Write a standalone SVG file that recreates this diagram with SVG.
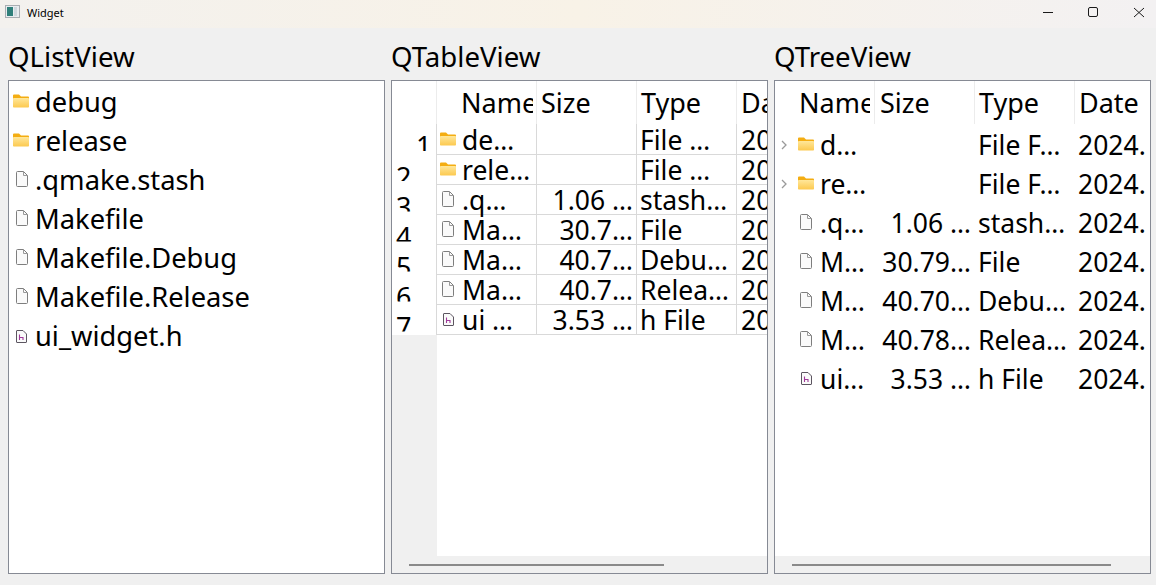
<svg xmlns="http://www.w3.org/2000/svg" width="1156" height="585" viewBox="0 0 1156 585">
<style>
text{font-family:"Noto Sans","Open Sans","Liberation Sans",sans-serif;font-size:26.5px;fill:#000}
.t{font-size:27.6px}
.l{font-size:27.3px}
.hd{font-size:27px}
.s{font-size:11px}
.r{text-anchor:end}
.box{fill:#fff;stroke:#868a94;stroke-width:1}
.g{stroke:#d9d9d9;stroke-width:1;fill:none}
.h{stroke:#ececec;stroke-width:1;fill:none}
.bar{fill:#f0f0f0}
.thumb{fill:#8a8a8a}
.win{stroke:#1a1a1a;stroke-width:1;fill:none}
.chev{stroke:#9a9a9a;stroke-width:1.3;fill:none}
</style>
<defs>
<linearGradient id="tb" x1="0" x2="1" y1="0" y2="0"><stop offset="0" stop-color="#f3f1ee"/><stop offset=".5" stop-color="#f8f2e7"/><stop offset="1" stop-color="#f3f1f2"/></linearGradient>
<linearGradient id="fo" x1="0" x2="0" y1="0" y2="1"><stop offset="0" stop-color="#ffe79a"/><stop offset="1" stop-color="#fcc94f"/></linearGradient>
<symbol id="folder" width="16" height="14" viewBox="0 0 16 14"><path d="M0 1.500Q0 .5 1 .5H6L8 2.500H15Q16 2.500 16 3.500V5H0Z" fill="#f4ad12"/><rect x="0" y="4" width="16" height="9.500" rx=".8" fill="url(#fo)"/></symbol>
<symbol id="file" width="12" height="16" viewBox="0 0 12 16"><path d="M.5 1.500Q.5 .5 1.500 .5H7.500L11.500 4.500V14.500Q11.500 15.500 10.500 15.500H1.500Q.5 15.500 .5 14.500Z" fill="#fafafa" stroke="#7e7e7e"/><path d="M7.500 .5V4.500H11.500" fill="none" stroke="#9a9a9a"/></symbol>
<symbol id="hfile" width="11" height="13" viewBox="0 0 11 13"><path d="M.5 1Q.5 .5 1 .5H7L10.500 4V12Q10.500 12.500 10 12.500H1Q.5 12.500 .5 12Z" fill="#fafafa" stroke="#5c5560"/><path d="M3.500 4.500V10M3.500 7.500H7V10" fill="none" stroke="#a03a9a" stroke-width="1.100"/></symbol>
<clipPath id="c-name"><rect x="437" y="81" width="96" height="43"/></clipPath>
<clipPath id="c-tv"><rect x="437" y="81" width="330" height="260"/></clipPath>
<clipPath id="c-tree-name"><rect x="775" y="81" width="95" height="43"/></clipPath>
<clipPath id="c-tree"><rect x="775" y="81" width="375" height="320"/></clipPath>
<clipPath id="r1"><rect x="392" y="125" width="45" height="26"/></clipPath>
<clipPath id="r2"><rect x="392" y="155" width="45" height="26"/></clipPath>
<clipPath id="r3"><rect x="392" y="185" width="45" height="26.500"/></clipPath>
<clipPath id="r4"><rect x="392" y="215" width="45" height="26.500"/></clipPath>
<clipPath id="r5"><rect x="392" y="245" width="45" height="26.500"/></clipPath>
<clipPath id="r6"><rect x="392" y="275" width="45" height="26.500"/></clipPath>
<clipPath id="r7"><rect x="392" y="305" width="45" height="26.500"/></clipPath>
</defs>
<rect width="1156" height="585" fill="#f0f0f0"/>
<g id="titlebar">
<rect width="1156" height="28" fill="url(#tb)"/>
<rect x="5.500" y="5.500" width="14" height="12" fill="#e8ecef" stroke="#a9adb2"/>
<rect x="7" y="7" width="6" height="9" fill="#2f7f7a"/><rect x="14" y="7" width="3" height="9" fill="#cfd8de"/>
<text class="s" x="27" y="17">Widget</text>
<path class="win" d="M1043 12.500H1053"/>
<rect class="win" x="1088.500" y="7.500" width="9" height="9" rx="1.500"/>
<path class="win" d="M1134 8L1144 17M1144 8L1134 17"/>
</g>
<g id="qlistview">
<text class="t" x="8" y="67">QListView</text>
<rect class="box" x="8.500" y="80.500" width="376" height="493"/>
<use href="#folder" x="13" y="94"/><text class="l" x="35" y="112">debug</text>
<use href="#folder" x="13" y="133"/><text class="l" x="35" y="151">release</text>
<use href="#file" x="16" y="171"/><text class="l" x="35" y="190">.qmake.stash</text>
<use href="#file" x="16" y="210"/><text class="l" x="35" y="229">Makefile</text>
<use href="#file" x="16" y="249"/><text class="l" x="35" y="268">Makefile.Debug</text>
<use href="#file" x="16" y="288"/><text class="l" x="35" y="307">Makefile.Release</text>
<use href="#hfile" x="16" y="330"/><text class="l" x="35" y="346">ui_widget.h</text>
</g>
<g id="qtableview">
<text class="t" x="391" y="67">QTableView</text>
<rect class="box" x="391.500" y="80.500" width="376" height="493"/>
<rect class="bar" x="392" y="335" width="45" height="221"/>
<rect class="bar" x="392" y="556" width="375" height="17"/>
<rect class="thumb" x="409" y="564" width="255" height="2"/>
<path class="h" d="M436.500 81V124M536.500 81V124M636.500 81V124M736.500 81V124"/>
<path class="g" d="M437 154.500H767M437 184.500H767M437 214.500H767M437 244.500H767M437 274.500H767M437 304.500H767M437 334.500H767M436.500 124V335M536.500 124V335M636.500 124V335M736.500 124V335"/>
<text class="hd" x="416" y="156" clip-path="url(#r1)">1</text>
<text class="hd" x="396" y="186.500" clip-path="url(#r2)">2</text>
<text class="hd" x="396" y="216.500" clip-path="url(#r3)">3</text>
<text class="hd" x="396" y="246.500" clip-path="url(#r4)">4</text>
<text class="hd" x="396" y="276.500" clip-path="url(#r5)">5</text>
<text class="hd" x="396" y="306.500" clip-path="url(#r6)">6</text>
<text class="hd" x="396" y="336.500" clip-path="url(#r7)">7</text>
<text class="hd" x="461" y="113" clip-path="url(#c-name)">Name</text>
<text class="hd" x="541" y="113">Size</text><text class="hd" x="641" y="113">Type</text>
<g clip-path="url(#c-tv)">
<text class="hd" x="741" y="113">Da</text>
<use href="#folder" x="440" y="132"/><text x="462" y="150">de…</text><text x="640" y="150">File …</text><text x="741" y="150">20</text>
<use href="#folder" x="440" y="162"/><text x="462" y="180">rele…</text><text x="640" y="180">File …</text><text x="741" y="180">20</text>
<use href="#file" x="442" y="191"/><text x="462" y="210">.q…</text><text class="r" x="633" y="210">1.06 …</text><text x="640" y="210">stash…</text><text x="741" y="210">20</text>
<use href="#file" x="442" y="221"/><text x="462" y="240">Ma…</text><text class="r" x="633" y="240">30.7…</text><text x="640" y="240">File</text><text x="741" y="240">20</text>
<use href="#file" x="442" y="251"/><text x="462" y="270">Ma…</text><text class="r" x="633" y="270">40.7…</text><text x="640" y="270">Debu…</text><text x="741" y="270">20</text>
<use href="#file" x="442" y="281"/><text x="462" y="300">Ma…</text><text class="r" x="633" y="300">40.7…</text><text x="640" y="300">Relea…</text><text x="741" y="300">20</text>
<use href="#hfile" x="443" y="313"/><text x="462" y="330">ui  …</text><text class="r" x="633" y="330">3.53 …</text><text x="640" y="330">h File</text><text x="741" y="330">20</text>
</g>
</g>
<g id="qtreeview">
<text class="t" x="774" y="67">QTreeView</text>
<rect class="box" x="774.500" y="80.500" width="376" height="493"/>
<rect class="bar" x="775" y="556" width="375" height="17"/>
<rect class="thumb" x="792" y="564" width="319" height="2"/>
<path class="h" d="M874.500 81V124M974.500 81V124M1074.500 81V124"/>
<text class="hd" x="799" y="113" clip-path="url(#c-tree-name)">Name</text>
<text class="hd" x="880" y="113">Size</text><text class="hd" x="979" y="113">Type</text><text class="hd" x="1079" y="113">Date</text>
<path class="chev" d="M782 141L786 145L782 149M782 180L786 184L782 188"/>
<g clip-path="url(#c-tree)">
<use href="#folder" x="798" y="137"/><text x="820" y="155">d…</text><text x="978" y="155">File F…</text><text x="1078" y="155">2024.</text>
<use href="#folder" x="798" y="176"/><text x="820" y="194">re…</text><text x="978" y="194">File F…</text><text x="1078" y="194">2024.</text>
<use href="#file" x="800" y="214"/><text x="820" y="233">.q…</text><text class="r" x="971" y="233">1.06 …</text><text x="978" y="233">stash…</text><text x="1078" y="233">2024.</text>
<use href="#file" x="800" y="253"/><text x="820" y="272">M…</text><text class="r" x="971" y="272">30.79…</text><text x="978" y="272">File</text><text x="1078" y="272">2024.</text>
<use href="#file" x="800" y="292"/><text x="820" y="311">M…</text><text class="r" x="971" y="311">40.70…</text><text x="978" y="311">Debu…</text><text x="1078" y="311">2024.</text>
<use href="#file" x="800" y="331"/><text x="820" y="350">M…</text><text class="r" x="971" y="350">40.78…</text><text x="978" y="350">Relea…</text><text x="1078" y="350">2024.</text>
<use href="#hfile" x="801" y="372"/><text x="820" y="389">ui…</text><text class="r" x="971" y="389">3.53 …</text><text x="978" y="389">h File</text><text x="1078" y="389">2024.</text>
</g>
</g>
</svg>
